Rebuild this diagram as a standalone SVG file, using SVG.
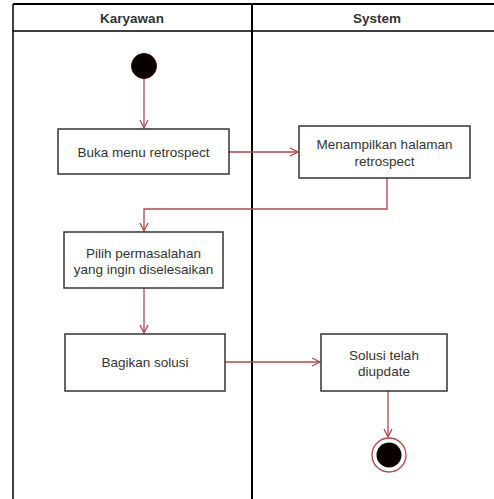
<svg xmlns="http://www.w3.org/2000/svg" width="494" height="499" viewBox="0 0 494 499">
  <style>
    .lane { stroke: #000; fill: none; }
    .box { fill: #fff; stroke: #333; stroke-width: 1.5; }
    .lbl { font-family: "Liberation Sans", Arial, sans-serif; font-size: 13.5px; fill: #333; text-anchor: middle; }
    .hdr { font-family: "Liberation Sans", Arial, sans-serif; font-size: 13.5px; font-weight: bold; fill: #333; text-anchor: middle; }
    .conn { stroke: #b5464b; stroke-width: 1.3; fill: none; }
  </style>
  <defs>
    <marker id="arr" viewBox="0 0 10 10" refX="9" refY="5" markerWidth="10" markerHeight="10" markerUnits="userSpaceOnUse" orient="auto">
      <path d="M1,1 L9,5 L1,9" fill="none" stroke="#b5464b" stroke-width="1.3"/>
    </marker>
  </defs>
  <rect width="494" height="499" fill="#fff"/>
  <g id="swimlanes">
    <line class="lane" x1="13" y1="4" x2="494" y2="4" stroke-width="2"/>
    <line class="lane" x1="13" y1="31" x2="494" y2="31" stroke-width="1.5"/>
    <line class="lane" x1="13" y1="4" x2="13" y2="499" stroke-width="1.5"/>
    <line class="lane" x1="252" y1="4" x2="252" y2="499" stroke-width="2"/>
    <text class="hdr" x="132" y="22.5">Karyawan</text>
    <text class="hdr" x="377" y="22.5">System</text>
  </g>
  <g id="connectors">
    <line class="conn" x1="144" y1="79" x2="144" y2="128" marker-end="url(#arr)"/>
    <line class="conn" x1="229" y1="152" x2="298" y2="152" marker-end="url(#arr)"/>
    <polyline class="conn" points="387,178 387,209 144,209 144,231" marker-end="url(#arr)"/>
    <line class="conn" x1="144" y1="288" x2="144" y2="333" marker-end="url(#arr)"/>
    <line class="conn" x1="225" y1="362" x2="320" y2="362" marker-end="url(#arr)"/>
    <line class="conn" x1="388" y1="391" x2="388" y2="437" marker-end="url(#arr)"/>
  </g>
  <g id="start">
    <circle cx="144" cy="66" r="12.5" fill="#0a0000" stroke="#3a0000" stroke-width="1"/>
  </g>
  <g id="buka-menu">
    <rect class="box" x="58" y="129" width="171" height="45"/>
    <text class="lbl" x="143.5" y="157">Buka menu retrospect</text>
  </g>
  <g id="menampilkan">
    <rect class="box" x="299" y="126" width="171" height="52"/>
    <text class="lbl" x="384.5" y="148.5">Menampilkan halaman</text>
    <text class="lbl" x="384.5" y="165.5">retrospect</text>
  </g>
  <g id="pilih">
    <rect class="box" x="64" y="232" width="159" height="56"/>
    <text class="lbl" x="143.5" y="257.5">Pilih permasalahan</text>
    <text class="lbl" x="143.5" y="273.5">yang ingin diselesaikan</text>
  </g>
  <g id="bagikan">
    <rect class="box" x="65" y="334" width="160" height="57"/>
    <text class="lbl" x="145" y="367">Bagikan solusi</text>
  </g>
  <g id="solusi">
    <rect class="box" x="321" y="334" width="126" height="57"/>
    <text class="lbl" x="384" y="359.5">Solusi telah</text>
    <text class="lbl" x="384" y="375.5">diupdate</text>
  </g>
  <g id="end">
    <circle cx="389" cy="455" r="17" fill="#fff" stroke="#b5464b" stroke-width="1.3"/>
    <circle cx="389" cy="455" r="12.5" fill="#0a0000"/>
  </g>
</svg>
